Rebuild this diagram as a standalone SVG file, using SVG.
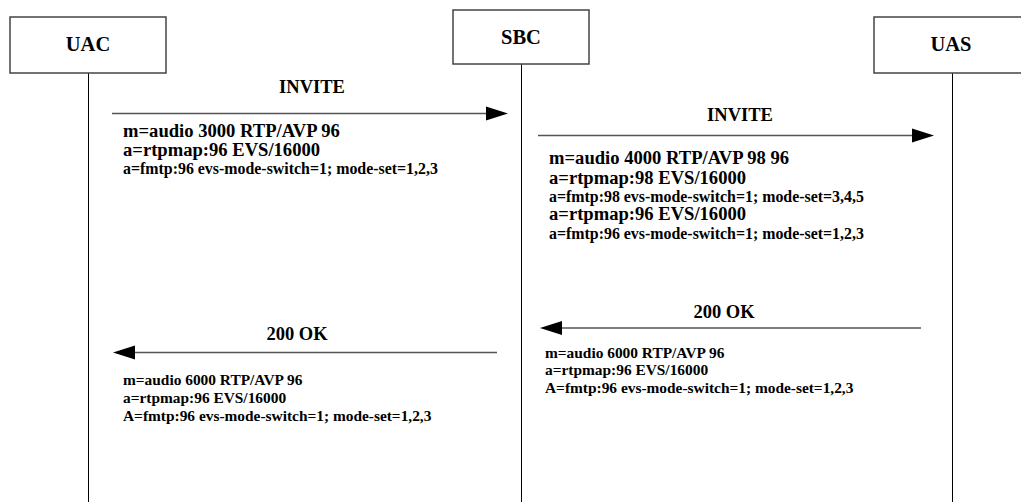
<svg xmlns="http://www.w3.org/2000/svg" width="1021" height="502" viewBox="0 0 1021 502">
<defs>
<style>
.box{fill:#fff;stroke:#444;stroke-width:1.5}
.life{stroke:#000;stroke-width:1}
.msg{stroke:#555;stroke-width:1.5;fill:none}
.head{fill:#000}
text{font-family:"Liberation Serif","Times New Roman",serif;font-weight:bold;fill:#000}
.nl{font-size:20.5px;text-anchor:middle}
.ml{font-size:18.5px;text-anchor:middle}
.big{font-size:18.6px}
.sm{font-size:15.9px}
.s15{font-size:15.4px}
</style>
</defs>
<rect width="1021" height="502" fill="#fff"/>
<g id="UAC">
<line class="life" x1="88.5" y1="73" x2="88.5" y2="502"/>
<rect class="box" x="10" y="17" width="156" height="56"/>
<text class="nl" x="88" y="51">UAC</text>
</g>
<g id="SBC">
<line class="life" x1="521.5" y1="64" x2="521.5" y2="502"/>
<rect class="box" x="453" y="10" width="136" height="54"/>
<text class="nl" x="521" y="44">SBC</text>
</g>
<g id="UAS">
<line class="life" x1="952.5" y1="73" x2="952.5" y2="502"/>
<rect class="box" x="874" y="17" width="150" height="56"/>
<text class="nl" x="951" y="51">UAS</text>
</g>
<g id="connectors">
<line class="msg" x1="112" y1="113.5" x2="488" y2="113.5"/>
<polygon class="head" points="508,113.5 486,106.5 486,120.5"/>
<line class="msg" x1="538" y1="135.5" x2="914" y2="135.5"/>
<polygon class="head" points="934,135.5 912,128.5 912,142.5"/>
<line class="msg" x1="921" y1="328" x2="560" y2="328"/>
<polygon class="head" points="540,328 562,321 562,335"/>
<line class="msg" x1="497" y1="352.5" x2="133" y2="352.5"/>
<polygon class="head" points="113,352.5 135,345.5 135,359.5"/>
</g>
<g id="labels">
<text class="ml" x="312" y="93">INVITE</text>
<text class="big" x="123" y="137">m=audio 3000 RTP/AVP 96</text>
<text class="big" x="123" y="156">a=rtpmap:96 EVS/16000</text>
<text class="sm" x="123" y="174">a=fmtp:96 evs-mode-switch=1; mode-set=1,2,3</text>
<text class="ml" x="740" y="121">INVITE</text>
<text class="big" x="549" y="164">m=audio 4000 RTP/AVP 98 96</text>
<text class="big" x="549" y="184">a=rtpmap:98 EVS/16000</text>
<text class="sm" x="549" y="202">a=fmtp:98 evs-mode-switch=1; mode-set=3,4,5</text>
<text class="big" x="549" y="220">a=rtpmap:96 EVS/16000</text>
<text class="sm" x="549" y="239">a=fmtp:96 evs-mode-switch=1; mode-set=1,2,3</text>
<text class="ml" x="724" y="318">200 OK</text>
<text class="s15" x="545" y="358">m=audio 6000 RTP/AVP 96</text>
<text class="s15" x="545" y="375">a=rtpmap:96 EVS/16000</text>
<text class="s15" x="545" y="393">A=fmtp:96 evs-mode-switch=1; mode-set=1,2,3</text>
<text class="ml" x="297" y="340">200 OK</text>
<text class="s15" x="123" y="385">m=audio 6000 RTP/AVP 96</text>
<text class="s15" x="123" y="403">a=rtpmap:96 EVS/16000</text>
<text class="s15" x="123" y="421">A=fmtp:96 evs-mode-switch=1; mode-set=1,2,3</text>
</g>
</svg>
